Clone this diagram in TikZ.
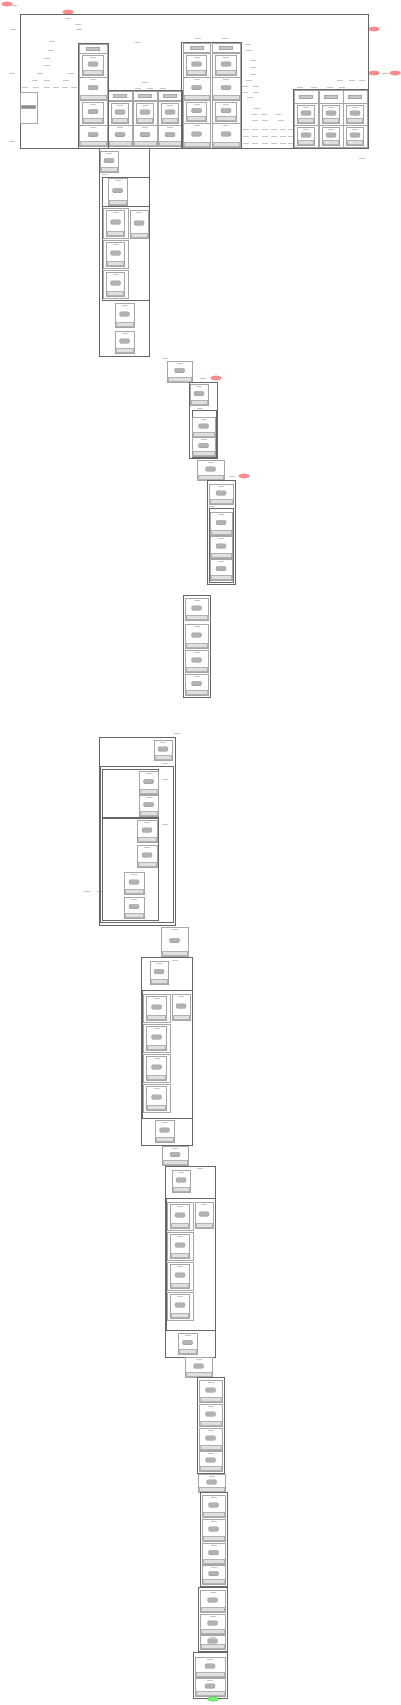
\documentclass[tikz,border=0pt]{standalone}
\usepackage{tikz}
\usetikzlibrary{shapes.geometric}
\tikzstyle{grp}=[draw=black!60,line width=0.45pt]
\tikzstyle{cellbox}=[draw=black!35,line width=0.3pt]
\tikzstyle{blob}=[rectangle,rounded corners=1.2pt,fill=black!30,draw=black!45,
                  line width=0.2pt,inner sep=0pt,minimum width=10pt,minimum height=4.5pt]
\tikzstyle{hbar}=[rectangle,fill=black!22,draw=black!35,line width=0.2pt,
                  inner sep=0pt,minimum width=13pt,minimum height=3pt]
\tikzstyle{bar}=[fill=black!12,draw=black!30,line width=0.2pt]
\tikzstyle{lbl}=[draw=black!22,line width=0.9pt]
\tikzstyle{reddot}=[ellipse,fill=red!45,draw=red!55,line width=0.2pt,
                    inner sep=0pt,minimum width=11pt,minimum height=4.5pt]
\tikzstyle{greendot}=[ellipse,fill=green!55,draw=green!60!black,line width=0.2pt,
                      inner sep=0pt,minimum width=11pt,minimum height=4.5pt]
% plain cell: frame, blob, bar
\newcommand{\ucell}[5]{%
  \draw[cellbox] (#2,#3) rectangle (#4,#5);
  \node[blob] (#1) at ({(#2+#4)/2},{(#3+#5)/2-1}) {};
  \draw[lbl,line width=0.6pt] ({(#2+#4)/2-3},{#3+2.5}) -- ({(#2+#4)/2+3},{#3+2.5});
  \draw[bar] ({#2+1},{#5-1}) rectangle ({#4-1},{#5-4.5});}
% cell holding a smaller cell
\newcommand{\icell}[5]{%
  \draw[cellbox] (#2,#3) rectangle (#4,#5);
  \ucell{#1}{#2+3.5}{#3+2}{#4-3.5}{#5-2}}
% header cell
\newcommand{\hcell}[5]{%
  \draw[cellbox] (#2,#3) rectangle (#4,#5);
  \node[hbar] (#1) at ({(#2+#4)/2},{(#3+#5)/2}) {};}
\begin{document}
\begin{tikzpicture}[x=1pt,y=-1pt]
  \useasboundingbox (0,0) rectangle (400,1705);
  % stop markers
  \node[reddot] (s0) at (7,4) {};
  \node[reddot] (s1) at (68,12) {};
  \node[reddot] (s2) at (374,29) {};
  \node[reddot] (s3) at (374,73) {};
  \node[reddot] (s4) at (395,73) {};
  % small labels (unreadable at this size)
  \foreach \x/\y in {14/5, 13/29, 12/73, 12/141, 68/18, 78/24, 79/29,
      52/41, 51/50, 47/58, 47/65, 40/73, 71/73, 35/80, 47/80, 66/80,
      25/87, 36/87, 47/87, 56/87, 65/87, 74/87,
      138/42, 145/82, 138/88, 150/88, 163/88, 198/38, 225/38,
      248/44, 249/50, 253/60, 253/67, 253/74, 249/80, 245/86, 256/86,
      245/92, 256/92, 250/97, 257/108, 254/114, 264/114, 278/114,
      255/120, 265/120, 281/120,
      246/129, 255/129, 265/129, 274/129, 283/129, 291/129,
      246/136, 255/136, 265/136, 274/136, 283/136, 291/136,
      246/143, 255/143, 265/143, 274/143, 283/143, 291/143,
      300/87, 314/87, 330/87, 342/87, 340/80, 352/80, 362/80, 362/158, 385/73,
      105/174, 165/358, 203/378, 200/408, 232/476, 212/506,
      177/733, 165/763, 165/779, 165/824, 87/891, 100/891, 175/960, 200/1168}
    \draw[lbl] ({\x-3},\y) -- ({\x+3},\y);
  % top frame
  \draw[grp] (20,14) rectangle (368,148);
  \draw[cellbox] (20,92) rectangle (37,123);
  \node[hbar,fill=black!45,minimum width=14pt] (lb) at (28.5,107) {};
  \hcell{a0}{79}{44}{107}{53}
  \icell{a1}{79}{53}{107}{77}
  \ucell{a2}{79}{77}{107}{100}
  \icell{a3}{79}{100}{107}{125}
  \ucell{a4}{79}{125}{107}{146}
  \draw[grp] (78,43) rectangle (108,148);
  \foreach \c/\xa/\xb in {b/108/132, c/133/157, d/158/182} {
    \hcell{\c0}{\xa}{91}{\xb}{100}
    \icell{\c1}{\xa}{101}{\xb}{125}
    \ucell{\c2}{\xa}{125}{\xb}{146}
  }
  \draw[grp] (108,90) rectangle (182,148);
  \foreach \c/\xa/\xb in {e/183/210, f/212/240} {
    \hcell{\c0}{\xa}{43}{\xb}{52}
    \icell{\c1}{\xa}{53}{\xb}{77}
    \ucell{\c2}{\xa}{77}{\xb}{100}
    \icell{\c3}{\xa}{100}{\xb}{123}
    \ucell{\c4}{\xa}{123}{\xb}{147}
  }
  \draw[grp] (181,42) rectangle (241,148);
  \foreach \c/\xa/\xb in {g/294/318, h/319/343, i/343/367} {
    \hcell{\c0}{\xa}{90}{\xb}{103}
    \icell{\c1}{\xa}{103}{\xb}{125}
    \icell{\c2}{\xa}{125}{\xb}{147}
  }
  \draw[grp] (293,89) rectangle (368,148);
  % block 2
  \draw[grp] (99,148) rectangle (149,356);
  \ucell{k0}{100}{151}{118}{172}
  \draw[grp] (102,177) rectangle (149,300);
  \ucell{k1}{108}{178}{127}{205}
  \draw[grp] (102,206) rectangle (149,300);
  \ucell{k2}{130}{210}{148}{238}
  \icell{k3}{103}{208}{128}{238}
  \icell{k4}{103}{240}{128}{268}
  \icell{k5}{103}{270}{128}{298}
  \ucell{k6}{115}{303}{134}{327}
  \ucell{k7}{115}{331}{134}{353}
  % block 3 and 4
  \ucell{m0}{167}{361}{192}{382}
  \node[reddot] (s5) at (216,378) {};
  \draw[grp] (189,382) rectangle (217,458);
  \ucell{m1}{190}{384}{208}{405}
  \draw[grp] (192,410) rectangle (216,457);
  \ucell{m2}{192}{417}{215}{437}
  \ucell{m3}{192}{437}{215}{456}
  % block 5 and 6
  \ucell{n0}{197}{460}{224}{480}
  \node[reddot] (s6) at (244,476) {};
  \draw[grp] (207,480) rectangle (235,584);
  \ucell{n1}{209}{484}{233}{504}
  \draw[grp] (209,508) rectangle (233,582);
  \foreach \i/\ya/\yb in {2/512/535, 3/536/558, 4/559/580}
    \ucell{n\i}{210}{\ya}{232}{\yb};
  % block 7
  \draw[grp] (183,595) rectangle (210,697);
  \foreach \i/\ya/\yb in {0/598/620, 1/624/648, 2/650/672, 3/674/695}
    \ucell{p\i}{185}{\ya}{208}{\yb};
  % block 8
  \draw[grp] (99,737) rectangle (175,925);
  \ucell{q0}{154}{740}{172}{760}
  \draw[grp] (100,766) rectangle (173,922);
  \draw[grp] (102,769) rectangle (158,817);
  \ucell{q1}{139}{771}{158}{794}
  \ucell{q2}{139}{795}{158}{816}
  \draw[grp] (102,818) rectangle (158,920);
  \ucell{q3}{137}{820}{157}{842}
  \ucell{q4}{137}{845}{157}{867}
  \ucell{q5}{124}{872}{144}{894}
  \ucell{q6}{124}{897}{144}{918}
  % block 9 and 10
  \ucell{r0}{161}{927}{188}{956}
  \draw[grp] (141,957) rectangle (192,1145);
  \ucell{r1}{150}{961}{168}{984}
  \draw[grp] (142,990) rectangle (192,1118);
  \ucell{r2}{172}{994}{190}{1020}
  \foreach \i/\ya/\yb in {3/994/1022, 4/1024/1052, 5/1054/1082, 6/1084/1112}
    \icell{r\i}{143}{\ya}{170}{\yb};
  \ucell{r7}{155}{1120}{174}{1142}
  % block 11 and 12
  \ucell{t0}{162}{1146}{188}{1165}
  \draw[grp] (165,1166) rectangle (215,1357);
  \ucell{t1}{172}{1170}{190}{1192}
  \draw[grp] (166,1198) rectangle (215,1330);
  \ucell{t2}{195}{1202}{213}{1228}
  \foreach \i/\ya/\yb in {3/1202/1230, 4/1232/1260, 5/1262/1290, 6/1292/1320}
    \icell{t\i}{167}{\ya}{193}{\yb};
  \ucell{t7}{178}{1333}{197}{1354}
  % blocks 13 to 18
  \ucell{u0}{185}{1357}{212}{1377}
  \draw[grp] (197,1377) rectangle (224,1473);
  \foreach \i/\ya/\yb in {1/1380/1402, 2/1404/1426, 3/1428/1450, 4/1451/1471}
    \ucell{u\i}{199}{\ya}{222}{\yb};
  \ucell{v0}{198}{1474}{225}{1492}
  \draw[grp] (200,1492) rectangle (227,1586);
  \foreach \i/\ya/\yb in {1/1495/1517, 2/1519/1541, 3/1543/1564, 4/1565/1584}
    \ucell{v\i}{202}{\ya}{225}{\yb};
  \draw[grp] (198,1587) rectangle (227,1651);
  \foreach \i/\ya/\yb in {1/1590/1612, 2/1614/1634, 3/1635/1649}
    \ucell{w\i}{200}{\ya}{225}{\yb};
  \draw[grp] (193,1652) rectangle (227,1698);
  \ucell{x1}{195}{1657}{225}{1677}
  \ucell{x2}{195}{1678}{225}{1696}
  \node[greendot] (end) at (213,1699) {};
\end{tikzpicture}
\end{document}
